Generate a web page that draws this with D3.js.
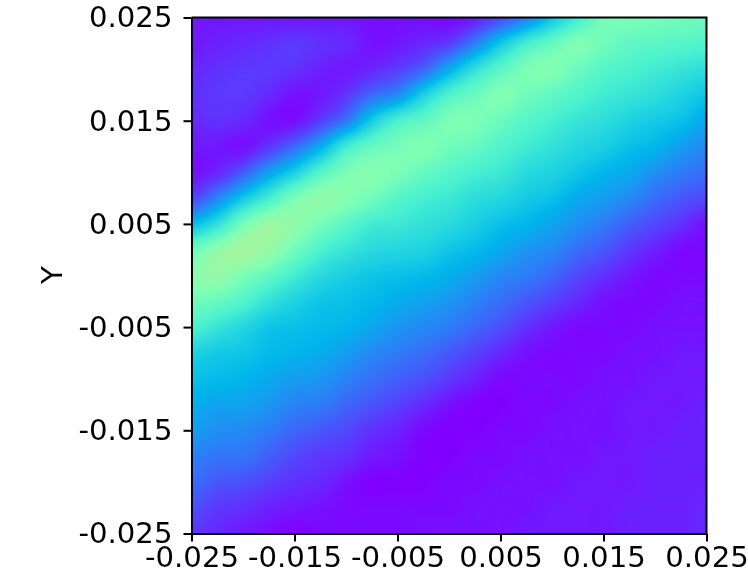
<!DOCTYPE html>
<meta charset="utf-8">
<style>
    body { margin: 0; background: #fff; }
    #plot { position: absolute; left: 0; top: 0; }
    canvas { position: absolute; }
    .axis text { font-family: "DejaVu Sans", sans-serif; font-size: 29.2px; fill: #000; }
    .axis line, .axis path { stroke: #000; stroke-width: 2px; }
</style>

<body>
    <div id="plot"></div>
</body>
<script src="https://d3js.org/d3.v7.min.js"></script>
<script>
    var xTicks = [-0.025, -0.015, -0.005, 0.005, 0.015, 0.025];
    var yTicks = [-0.025, -0.015, -0.005, 0.005, 0.015, 0.025];
    var yName = "Y";

    // grid positions of the heat values, 0.0025 apart
    var xGrid = d3.range(21).map(function (i) { return (-25 + i * 2.5) / 1000; });
    var yGrid = d3.range(21).map(function (i) { return (25 - i * 2.5) / 1000; });

    // one list per column, left to right, each going from top to bottom
    var zColumns = [
        [.03, .03, .05, .06, .05, .03, .02, .09, .27, .46, .52, .47, .40, .31, .27, .24, .21, .17, .14, .10, .07],
        [.03, .04, .06, .07, .06, .03, .05, .18, .35, .53, .54, .45, .36, .29, .26, .22, .19, .15, .11, .07, .05],
        [.03, .05, .07, .07, .05, .02, .12, .29, .48, .57, .49, .41, .32, .28, .25, .22, .18, .15, .10, .06, .03],
        [.03, .06, .07, .05, .02, .07, .22, .39, .55, .54, .44, .35, .28, .26, .23, .20, .16, .12, .08, .04, .015],
        [.03, .07, .06, .02, .02, .14, .31, .49, .53, .47, .38, .31, .27, .25, .21, .17, .13, .09, .06, .03, 0],
        [.03, .06, .04, .03, .08, .24, .42, .53, .48, .40, .33, .28, .26, .235, .20, .16, .11, .07, .05, .02, .01],
        [.03, .05, .03, .07, .16, .38, .49, .51, .43, .36, .30, .27, .25, .21, .17, .13, .09, .06, .02, .01, .01],
        [.02, .02, .05, .14, .30, .45, .51, .47, .38, .33, .28, .255, .225, .18, .145, .105, .06, .03, 0, .01, .01],
        [.02, .03, .08, .19, .40, .48, .49, .42, .37, .32, .27, .235, .20, .16, .12, .08, .04, .02, 0, .01, .01],
        [.02, .05, .13, .31, .44, .50, .45, .39, .35, .31, .26, .22, .18, .14, .10, .05, .01, 0, 0, .01, .02],
        [.01, .08, .24, .41, .49, .47, .42, .37, .33, .28, .24, .20, .16, .11, .07, .02, 0, 0, .01, .01, .02],
        [.04, .17, .35, .46, .49, .45, .39, .34, .30, .26, .21, .17, .13, .08, .04, 0, 0, .01, .01, .02, .02],
        [.10, .29, .43, .50, .46, .41, .37, .32, .27, .23, .18, .14, .10, .05, .01, 0, .01, .01, .02, .02, .02],
        [.18, .39, .49, .47, .42, .38, .33, .29, .25, .20, .16, .11, .06, .02, .01, .01, .01, .02, .02, .02, .03],
        [.29, .45, .50, .44, .39, .35, .31, .27, .22, .18, .13, .08, .03, .01, .01, .01, .02, .02, .02, .03, .03],
        [.39, .50, .46, .41, .36, .32, .28, .23, .19, .14, .09, .05, .01, .01, .01, .02, .02, .02, .03, .03, .03],
        [.48, .47, .42, .38, .34, .30, .25, .21, .16, .11, .06, .02, .01, .01, .02, .02, .02, .03, .03, .03, .03],
        [.49, .44, .40, .36, .31, .27, .23, .18, .12, .07, .03, .01, .01, .02, .02, .03, .03, .03, .03, .04, .04],
        [.48, .43, .38, .34, .29, .25, .19, .14, .09, .04, .01, .01, .02, .02, .03, .03, .03, .04, .04, .04, .04],
        [.47, .42, .36, .31, .27, .21, .16, .11, .06, .01, .01, .02, .02, .03, .03, .03, .04, .04, .04, .04, .04],
        [.46, .41, .34, .28, .23, .18, .14, .09, .02, .01, .01, .02, .02, .03, .03, .04, .04, .04, .04, .05, .05]
    ];

    // matplotlib "rainbow"
    var colorStops = [0, .05, .1, .15, .2, .25, .3, .4, .5, .6, .7];
    var colorValues = ['#8000ff', '#6628fe', '#4c4ffc', '#3374f8', '#1a96f2', '#00b5eb', '#1acee3', '#4cf2ce', '#80ffb4', '#b2f296', '#e6ce74'];

    var width = 748, height = 587;
    var margin = { top: 17.5, right: 41.5, bottom: 53.5, left: 191.5 };
    var plotW = width - margin.left - margin.right,
        plotH = height - margin.top - margin.bottom;

    var x = d3.scaleLinear().domain([-0.025, 0.025]).range([0, plotW]);
    var y = d3.scaleLinear().domain([-0.025, 0.025]).range([plotH, 0]);
    var color = d3.scaleLinear().domain(colorStops).range(colorValues).clamp(true);

    // value position -> fractional grid index
    var xIndex = d3.scaleLinear().domain([xGrid[0], xGrid[20]]).range([0, 20]).clamp(true);
    var yIndex = d3.scaleLinear().domain([yGrid[0], yGrid[20]]).range([0, 20]).clamp(true);

    function cubic(a, b, c, d, t) {
        return b + 0.5 * t * (c - a + t * (2 * a - 5 * b + 4 * c - d + t * (3 * (b - c) + d - a)));
    }

    function cell(i, j) {
        i = Math.max(0, Math.min(20, i));
        j = Math.max(0, Math.min(20, j));
        return zColumns[i][j];
    }

    function sample(gx, gy) {
        var i = Math.floor(gx), j = Math.floor(gy),
            tx = gx - i, ty = gy - j, rows = [];
        for (var m = -1; m <= 2; m++) {
            rows.push(cubic(cell(i - 1, j + m), cell(i, j + m), cell(i + 1, j + m), cell(i + 2, j + m), tx));
        }
        return cubic(rows[0], rows[1], rows[2], rows[3], ty);
    }

    var canvas = d3.select("#plot").append("canvas")
        .attr("width", Math.round(plotW))
        .attr("height", Math.round(plotH))
        .style("left", margin.left + "px")
        .style("top", margin.top + "px");

    var ctx = canvas.node().getContext("2d");
    var w = Math.round(plotW), h = Math.round(plotH);
    var img = ctx.createImageData(w, h);
    for (var py = 0; py < h; py++) {
        var gy = yIndex(y.invert(py + 0.5));
        for (var px = 0; px < w; px++) {
            var c = d3.rgb(color(sample(xIndex(x.invert(px + 0.5)), gy)));
            var n = (py * w + px) * 4;
            img.data[n] = c.r;
            img.data[n + 1] = c.g;
            img.data[n + 2] = c.b;
            img.data[n + 3] = 255;
        }
    }
    ctx.putImageData(img, 0, 0);

    var svg = d3.select("#plot").append("svg")
        .attr("width", width)
        .attr("height", height)
        .style("position", "absolute")
        .append("g")
        .attr("transform", "translate(" + margin.left + "," + margin.top + ")");

    // plain hyphen on the negative labels
    var fmt = d3.formatLocale({ decimal: ".", thousands: ",", grouping: [3], currency: ["", ""], minus: "-" }).format(".3f");

    svg.append("g")
        .attr("class", "x axis")
        .attr("transform", "translate(0," + plotH + ")")
        .call(d3.axisBottom(x).tickValues(xTicks).tickSize(8).tickSizeOuter(0).tickFormat(fmt))
        .selectAll("text")
        .attr("y", 11)
        .attr("dy", "0.76em");

    svg.append("g")
        .attr("class", "y axis")
        .call(d3.axisLeft(y).tickValues(yTicks).tickSize(8).tickSizeOuter(0).tickFormat(fmt))
        .selectAll("text")
        .attr("x", -19);

    // top and right spines
    svg.append("path")
        .attr("class", "spine")
        .attr("d", "M0,0H" + plotW + "V" + plotH)
        .attr("fill", "none")
        .attr("stroke", "#000")
        .attr("stroke-width", 2);

    svg.append("text")
        .attr("class", "ylabel")
        .attr("transform", "translate(" + (62 - margin.left) + "," + (275 - margin.top) + ") rotate(-90)")
        .attr("text-anchor", "middle")
        .style("font-family", '"DejaVu Sans", sans-serif')
        .style("font-size", "29.2px")
        .text(yName);
</script>
